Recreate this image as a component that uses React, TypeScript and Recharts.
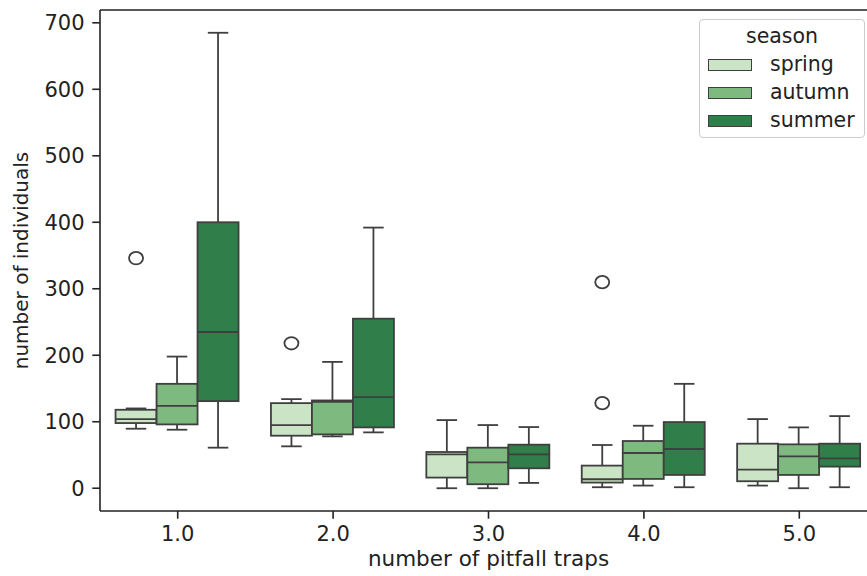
import React from "react";
import {
    ComposedChart,
    Bar,
    XAxis,
    YAxis,
    ReferenceLine,
} from "recharts";

const categories = ["1.0", "2.0", "3.0", "4.0", "5.0"];
const yTicks = [0, 100, 200, 300, 400, 500, 600, 700];

const springLow = [89.5, 63, 0, 1.5, 4];
const springQ1 = [98, 79, 16, 8.5, 10.5];
const springMedian = [104, 95, 51, 13.5, 28];
const springQ3 = [118, 128, 54.5, 34, 67];
const springHigh = [120, 134, 102.5, 65, 104];
const springOutliers = [[346], [218], [], [128, 310], []];

const autumnLow = [88, 78, 0, 4, 0];
const autumnQ1 = [96, 81, 6, 14, 20];
const autumnMedian = [124, 130, 39, 53, 48];
const autumnQ3 = [157, 132, 61, 71, 66];
const autumnHigh = [198, 190, 95, 94, 91.5];
const autumnOutliers = [[], [], [], [], []];

const summerLow = [61, 84, 8, 1.5, 1.5];
const summerQ1 = [131, 91.5, 30, 20, 32.5];
const summerMedian = [235, 137, 51, 59, 45];
const summerQ3 = [400, 255, 65.5, 99.5, 67];
const summerHigh = [685, 392, 92, 157, 108.5];
const summerOutliers = [[], [], [], [], []];

const seasons = [
    { key: "spring", color: "#cae4c5", low: springLow, q1: springQ1, med: springMedian, q3: springQ3, high: springHigh, out: springOutliers },
    { key: "autumn", color: "#7eba80", low: autumnLow, q1: autumnQ1, med: autumnMedian, q3: autumnQ3, high: autumnHigh, out: autumnOutliers },
    { key: "summer", color: "#307e4a", low: summerLow, q1: summerQ1, med: summerMedian, q3: summerQ3, high: summerHigh, out: summerOutliers },
];

const rows = categories.map((cat, i) => {
    const row: any = { cat };
    seasons.forEach((s) => {
        row[s.key] = {
            low: s.low[i],
            q1: s.q1[i],
            med: s.med[i],
            q3: s.q3[i],
            high: s.high[i],
            out: s.out[i],
        };
    });
    return row;
});

const LINE = "#3f3f3f";
const TEXT = "#222";
const FONT = "DejaVu Sans";
const Y_MIN = -34.25;
const Y_MAX = 719.25;

function BoxShape(props: any) {
    const { x, y, width, height, payload, sk, fill } = props;
    const st = payload[sk];
    // pixels per unit, taken from the box the library laid out
    const k = height / (st.q3 - st.q1);
    const py = (v: number) => y + (st.q3 - v) * k;
    const cx = x + width / 2;
    const cap = width / 4;
    const lw = 1.8;
    return (
        <g>
            <line x1={cx} x2={cx} y1={py(st.high)} y2={y} stroke={LINE} strokeWidth={lw} />
            <line x1={cx} x2={cx} y1={y + height} y2={py(st.low)} stroke={LINE} strokeWidth={lw} />
            <line x1={cx - cap} x2={cx + cap} y1={py(st.high)} y2={py(st.high)} stroke={LINE} strokeWidth={lw} />
            <line x1={cx - cap} x2={cx + cap} y1={py(st.low)} y2={py(st.low)} stroke={LINE} strokeWidth={lw} />
            <rect x={x} y={y} width={width} height={height} fill={fill} stroke={LINE} strokeWidth={lw} />
            <line x1={x} x2={x + width} y1={py(st.med)} y2={py(st.med)} stroke={LINE} strokeWidth={lw} />
            {st.out.map((v: number, j: number) => (
                <ellipse key={j} cx={cx} cy={py(v)} rx={7} ry={6.2} fill="none" stroke={LINE} strokeWidth={lw} />
            ))}
        </g>
    );
}

function SeasonLegend() {
    const rowCenters = [45, 73, 100.5];
    return (
        <div
            style={{
                position: "absolute",
                left: 699,
                top: 19,
                width: 166,
                height: 119,
                boxSizing: "border-box",
                border: "1px solid #cccccc",
                borderRadius: 4,
                background: "rgba(255,255,255,0.8)",
                fontFamily: FONT,
                fontSize: 20.5,
                color: TEXT,
            }}
        >
            <div
                style={{
                    position: "absolute",
                    left: 0,
                    width: "100%",
                    textAlign: "center",
                    top: 16 - 12,
                    height: 24,
                    lineHeight: "24px",
                }}
            >
                season
            </div>
            {seasons.map((s, i) => (
                <React.Fragment key={s.key}>
                    <div
                        style={{
                            position: "absolute",
                            left: 8,
                            top: rowCenters[i] - 6,
                            width: 44,
                            height: 12,
                            boxSizing: "border-box",
                            background: s.color,
                            border: `1.8px solid ${LINE}`,
                        }}
                    />
                    <div
                        style={{
                            position: "absolute",
                            left: 70,
                            top: rowCenters[i] - 13,
                            height: 24,
                            lineHeight: "24px",
                        }}
                    >
                        {s.key}
                    </div>
                </React.Fragment>
            ))}
        </div>
    );
}

export default function App() {
    return (
        <div
            style={{
                position: "fixed",
                left: 0,
                top: 0,
                width: 867,
                height: 576,
                overflow: "hidden",
                background: "#fff",
            }}
        >
            <ComposedChart
                width={900}
                height={576}
                data={rows}
                margin={{ top: 10, right: 23, bottom: 0, left: 0 }}
                barCategoryGap="10%"
                barGap={0}
            >
                <XAxis
                    dataKey="cat"
                    height={65}
                    tickSize={7.7}
                    tickMargin={7}
                    axisLine={{ stroke: "#222", strokeWidth: 1.6 }}
                    tickLine={{ stroke: "#222", strokeWidth: 1.6 }}
                    tick={{ fontSize: 21, fontFamily: FONT, fill: TEXT }}
                    label={{
                        value: "number of pitfall traps",
                        position: "insideBottom",
                        offset: 10,
                        style: { fontSize: 21.5, fontFamily: FONT, fill: TEXT },
                    }}
                />
                <YAxis
                    type="number"
                    width={100}
                    domain={[Y_MIN, Y_MAX]}
                    ticks={yTicks}
                    allowDataOverflow
                    tickSize={7.7}
                    tickMargin={7.7}
                    axisLine={{ stroke: "#222", strokeWidth: 1.6 }}
                    tickLine={{ stroke: "#222", strokeWidth: 1.6 }}
                    tick={{ fontSize: 21, fontFamily: FONT, fill: TEXT }}
                    label={{
                        value: "number of individuals",
                        angle: -90,
                        position: "insideLeft",
                        offset: 21,
                        style: { fontSize: 20, fontFamily: FONT, fill: TEXT, textAnchor: "middle" },
                    }}
                />
                <ReferenceLine y={Y_MAX} stroke="#222" strokeWidth={1.6} />
                {seasons.map((s) => (
                    <Bar
                        key={s.key}
                        dataKey={(r: any) => [r[s.key].q1, r[s.key].q3]}
                        fill={s.color}
                        isAnimationActive={false}
                        shape={(p: any) => <BoxShape {...p} sk={s.key} fill={s.color} />}
                    />
                ))}
            </ComposedChart>
            <SeasonLegend />
        </div>
    );
}
